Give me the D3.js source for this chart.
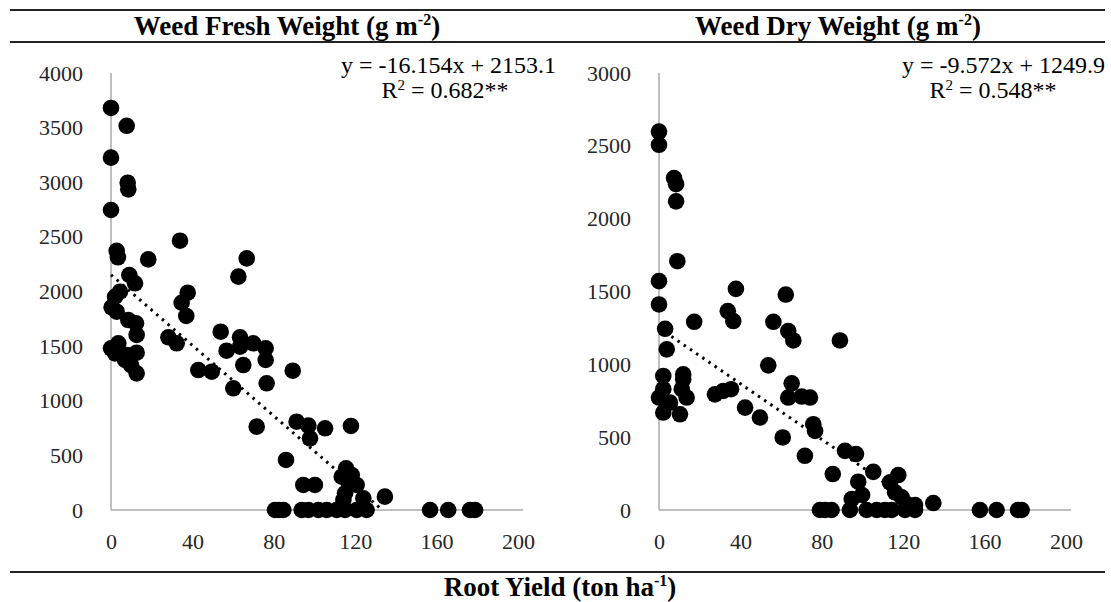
<!DOCTYPE html>
<html>
<head>
<meta charset="utf-8">
<script src="https://cdn.jsdelivr.net/npm/d3@7"></script>
<style>
  body { margin: 0; background: #fff; }
  svg text { font-family: "Liberation Serif", "Times New Roman", serif; }
</style>
</head>
<body>
<svg id="chart" width="1111" height="602"></svg>
<script>
// root yield (ton/ha) and weed fresh weight (g/m2)
var freshX = [0, 7.7, 0, 8.2, 8.5, 0, 33.9, 2.8, 3.4, 18.3, 66.7, 62.6, 9, 11.8, 37.7, 4.4, 2, 34.7, 0.3,
  2.8, 37, 8.5, 12.3, 12.6, 53.9, 28.2, 32.3, 63.4, 69.9, 76, 56.8, 63.4, 0, 3.6, 12.6, 7.7, 6.9, 2,
  9.8, 12.6, 76, 65, 42.9, 49.5, 89.3, 60.1, 76.5, 71.6, 91.2, 97, 105.2, 117.9, 97.8, 86, 94.5,
  115.5, 113.4, 118.3, 116.6, 120.7, 100.2, 115, 124, 134.6, 114.2,
  80.6, 82.5, 84.7, 93.7, 97, 101.9, 106, 110.9, 115, 120.7, 125.6, 156.8, 165.7, 176.4, 178.9];
var freshY = [3680, 3517, 3225, 2996, 2935, 2746, 2465, 2373, 2313, 2294, 2303, 2136, 2151, 2075, 1989, 1998, 1952, 1897, 1855,
  1815, 1776, 1739, 1709, 1602, 1632, 1581, 1526, 1581, 1526, 1480, 1458, 1495, 1480, 1526, 1440, 1419, 1373, 1434,
  1327, 1251, 1373, 1327, 1281, 1266, 1275, 1114, 1160, 763, 808, 772, 748, 769, 656, 458, 229,
  382, 305, 320, 259, 229, 229, 153, 107, 122, 92,
  0, 0, 0, 0, 0, 0, 0, 0, 0, 0, 0, 0, 0, 0, 0];

// root yield (ton/ha) and weed dry weight (g/m2)
var dryX = [0, 0, 7.4, 8.4, 8.4, 9, 0, 37.8, 62.3, 0, 33.8, 17.3, 36.5, 56.2, 63.5, 66, 88.9, 3, 3.8,
  53.7, 2.1, 11.9, 65.2, 0, 2.1, 5.4, 13.6, 11.2, 2.1, 10.3, 11.9, 27.5, 31.6, 35.4, 42.3, 49.6,
  63.5, 70.1, 74.2, 75.8, 76.7, 60.8, 71.7, 91.4, 96.8, 85.4, 105.3, 117.6, 97.9, 113.5, 99.8, 94.7,
  116, 119.3, 134.8, 121.7, 125.8,
  79.1, 81.6, 84.8, 93.8, 102, 107, 111, 114.3, 120.9, 125.8, 157.7, 165.9, 176.4, 178.2];
var dryY = [2598, 2507, 2279, 2237, 2119, 1708, 1571, 1518, 1479, 1411, 1365, 1292, 1297, 1292, 1228, 1164, 1164, 1244, 1103,
  993, 920, 931, 870, 772, 829, 737, 772, 829, 669, 657, 897, 794, 817, 829, 703, 635,
  772, 779, 772, 589, 543, 498, 372, 406, 384, 247, 262, 240, 194, 190, 103, 75,
  121, 87, 48, 41, 34,
  0, 0, 0, 0, 0, 0, 0, 0, 0, 0, 0, 0, 0, 0];

var xTicks = [0, 40, 80, 120, 160, 200];
var freshTicks = [0, 500, 1000, 1500, 2000, 2500, 3000, 3500, 4000];
var dryTicks = [0, 500, 1000, 1500, 2000, 2500, 3000];

var panels = [
  { title: "Weed Fresh Weight (g m", xs: freshX, ys: freshY, yTicks: freshTicks, yMax: 4000,
    slope: -16.154, icpt: 2153.1, eq: "y = -16.154x + 2153.1", r2: "= 0.682**",
    x0: 111, x1: 518, titleX: 287, eqX: 556, r2X: 445 },
  { title: "Weed Dry Weight (g m", xs: dryX, ys: dryY, yTicks: dryTicks, yMax: 3000,
    slope: -9.572, icpt: 1249.9, eq: "y = -9.572x + 1249.9", r2: "= 0.548**",
    x0: 659, x1: 1066, titleX: 838, eqX: 1105, r2X: 993 }
];

var svg = d3.select("#chart");

// frame lines
[10, 42, 572].forEach(function(y) {
  svg.append("line").attr("x1", 10).attr("x2", 1105).attr("y1", y).attr("y2", y)
    .attr("stroke", "#222").attr("stroke-width", 2);
});

panels.forEach(function(p) {
  var x = d3.scaleLinear().domain([0, 200]).range([p.x0, p.x1]);
  var y = d3.scaleLinear().domain([0, p.yMax]).range([510, 73]);
  var g = svg.append("g");

  // title
  var t = g.append("text").attr("x", p.titleX).attr("y", 35).attr("text-anchor", "middle")
    .attr("font-size", 27).attr("font-weight", "bold").text(p.title);
  t.append("tspan").attr("font-size", 16).attr("dy", -10).text("-2");
  t.append("tspan").attr("dy", 10).text(")");

  // axes
  var yAxis = d3.axisLeft(y).tickValues(p.yTicks).tickSize(0).tickPadding(28).tickFormat(d3.format("d"));
  var ya = g.append("g").attr("transform", "translate(" + p.x0 + ",0)").call(yAxis);
  var xAxis = d3.axisBottom(x).tickValues(xTicks).tickSize(0).tickPadding(23).tickFormat(d3.format("d"));
  var xa = g.append("g").attr("transform", "translate(0,510)").call(xAxis);
  [ya, xa].forEach(function(a) {
    a.attr("font-family", null);
    a.select(".domain").remove();
    a.selectAll("text").attr("font-size", 22).attr("fill", "#262626");
  });
  g.append("line").attr("x1", p.x0).attr("x2", p.x0).attr("y1", y(p.yMax)).attr("y2", 510)
    .attr("stroke", "#bfbfbf").attr("stroke-width", 2);
  g.append("line").attr("x1", p.x0).attr("x2", x(202.5)).attr("y1", 510).attr("y2", 510)
    .attr("stroke", "#bfbfbf").attr("stroke-width", 2);

  // points
  g.selectAll("circle").data(p.xs).enter().append("circle")
    .attr("cx", function(d) { return x(d); })
    .attr("cy", function(d, i) { return y(p.ys[i]); })
    .attr("r", 8.3)
    .attr("fill", "#000");

  // linear trend line
  var xEnd = Math.min(134.5, -p.icpt / p.slope);
  g.append("line")
    .attr("x1", x(0)).attr("y1", y(p.icpt))
    .attr("x2", x(xEnd)).attr("y2", y(p.icpt + p.slope * xEnd))
    .attr("stroke", "#000").attr("stroke-width", 3).attr("stroke-dasharray", "2.5,5");

  // equation
  g.append("text").attr("x", p.eqX).attr("y", 73).attr("text-anchor", "end")
    .attr("font-size", 24).text(p.eq);
  var r = g.append("text").attr("x", p.r2X).attr("y", 98).attr("text-anchor", "middle")
    .attr("font-size", 24);
  r.append("tspan").text("R");
  r.append("tspan").attr("font-size", 15).attr("dy", -8).text("2");
  r.append("tspan").attr("dy", 8).text(" " + p.r2);
});

// shared x title
var xt = svg.append("text").attr("x", 560).attr("y", 596).attr("text-anchor", "middle")
  .attr("font-size", 27).attr("font-weight", "bold").text("Root Yield (ton ha");
xt.append("tspan").attr("font-size", 16).attr("dy", -10).text("-1");
xt.append("tspan").attr("dy", 10).text(")");
</script>
</body>
</html>
